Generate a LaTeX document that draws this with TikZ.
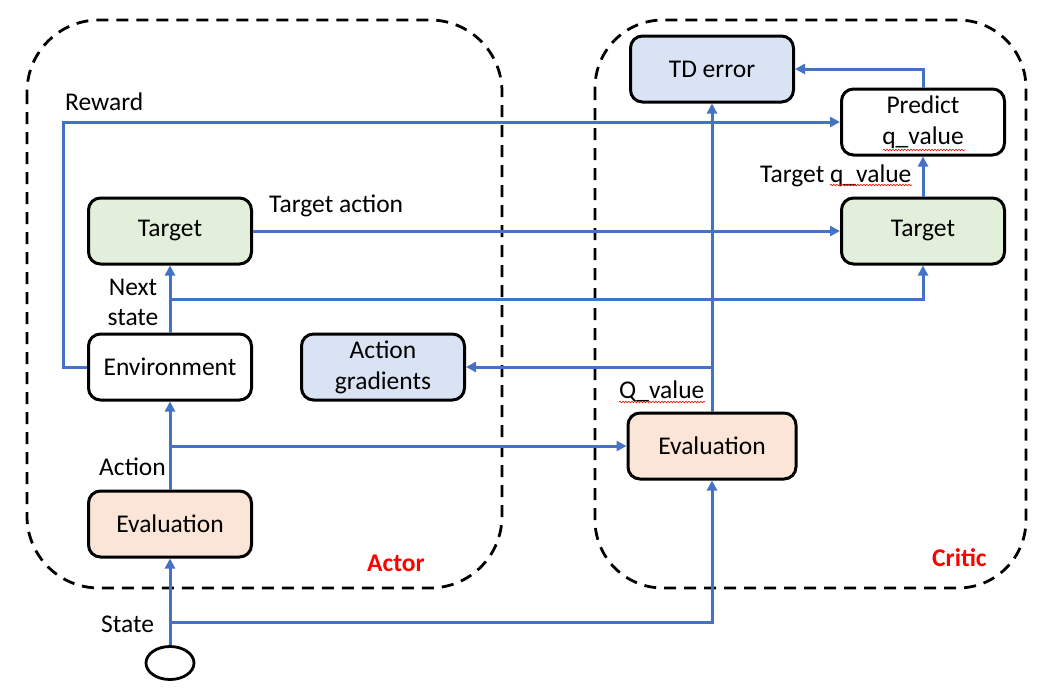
\documentclass[tikz,border=0pt]{standalone}
\usepackage{fontspec}
\setmainfont{Carlito}
\usetikzlibrary{arrows.meta,shapes.geometric,decorations.pathmorphing}
\definecolor{lineblue}{HTML}{4472C4}
\definecolor{fillgreen}{HTML}{E2EFDA}
\definecolor{fillblue}{HTML}{DAE3F3}
\definecolor{fillpeach}{HTML}{FBE5D6}
\definecolor{labelred}{HTML}{FF0000}
\begin{document}
\begin{tikzpicture}[x=1pt,y=-1pt,
  every node/.style={font=\fontsize{25.5}{31}\selectfont},
  box/.style={draw=black, line width=3pt, rounded corners=12pt, minimum width=163pt, minimum height=66pt, align=center, inner sep=2pt},
  container/.style={draw=black, line width=2.8pt, dash pattern=on 12pt off 8pt},
  conn/.style={draw=lineblue, line width=3pt},
  arr/.style={conn, -{Triangle[length=10pt,width=10pt]}},
  lbl/.style={inner sep=0pt},
  squiggle/.style={draw=labelred, line width=0.6pt, decorate, decoration={snake, amplitude=0.8pt, segment length=3pt}},
  teamlbl/.style={inner sep=0pt, text=labelred, font=\fontsize{25.5}{31}\selectfont\bfseries}
]
\useasboundingbox (0,0) rectangle (1050,694);

% containers
\draw[container, rounded corners=72pt] (27,20) rectangle (502,588);
\draw[container, rounded corners=68pt] (595,20) rectangle (1026,588);

% nodes
\node[box, fill=fillgreen] (atarget) at (170,231) {Target};
\node[box, fill=white] (env) at (170,367) {Environment};
\node[box, fill=fillpeach] (aeval) at (170,524) {Evaluation};
\node[box, fill=fillblue] (agrad) at (383,367) {Action\\gradients};
\node[box, fill=fillblue] (td) at (712,69) {TD error};
\node[box, fill=white] (pred) at (923,122) {Predict\\q\_value};
\node[box, fill=fillgreen] (ctarget) at (923,231) {Target};
\node[box, fill=fillpeach, minimum width=168pt] (ceval) at (712,446) {Evaluation};
\node[draw=black, line width=2.8pt, ellipse, minimum width=48pt, minimum height=33pt, inner sep=0pt] (state) at (170,663) {};

% junction coordinates
\coordinate (rw1) at (63,367);
\coordinate (rw2) at (63,122);
\coordinate (ns) at (170,299);
\coordinate (ns2) at (923,299);
\coordinate (pq) at (923,69);
\coordinate (qv) at (712,367);
\coordinate (ac) at (170,446);
\coordinate (st) at (170,622);
\coordinate (st2) at (712,622);

% connectors
\draw[arr] (env.west) -- (rw1) -- (rw2) -- (pred.west);
\draw[arr] (atarget.east) -- (ctarget.west);
\draw[arr] (env.north) -- (atarget.south);
\draw[arr] (ns) -- (ns2) -- (ctarget.south);
\draw[arr] (ctarget.north) -- (pred.south);
\draw[arr] (pred.north) -- (pq) -- (td.east);
\draw[arr] (ceval.north) -- (td.south);
\draw[arr] (qv) -- (agrad.east);
\draw[arr] (aeval.north) -- (env.south);
\draw[arr] (ac) -- (ceval.west);
\draw[arr] (state.north) -- (aeval.south);
\draw[arr] (st) -- (st2) -- (ceval.south);

% labels
\node[lbl, anchor=base west] (lreward) at (65,110) {Reward};
\node[lbl, anchor=base west] (ltaction) at (269,212) {Target action};
\node[lbl, anchor=base] (lnext) at (133,295) {Next};
\node[lbl, anchor=base] (lstate2) at (133,325) {state};
\node[lbl, anchor=base west] (ltq) at (760,182) {Target q\_value};
\node[lbl, anchor=base west] (lqv) at (619,398) {Q\_value};
\node[lbl, anchor=base west] (laction) at (99,475) {Action};
\node[lbl, anchor=base west] (lstate) at (101,632) {State};
\node[teamlbl, anchor=base west] (lactor) at (367,571) {Actor};
\node[teamlbl, anchor=base west] (lcritic) at (932,566) {Critic};

% spell-check squiggles
\draw[squiggle] (619,402) -- (705,402);
\draw[squiggle] (830,185) -- (912,185);
\draw[squiggle] (883,150) -- (965,150);
\end{tikzpicture}
\end{document}
